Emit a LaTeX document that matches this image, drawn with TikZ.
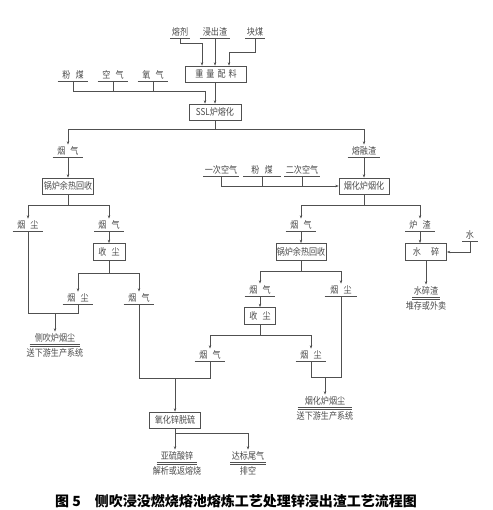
\documentclass[tikz,border=0pt]{standalone}
\usepackage{fontspec}
\usepackage{tikz}
\usetikzlibrary{arrows.meta, positioning}
\newfontfamily\cjk[FakeStretch=0.85]{Noto Sans CJK SC}
\newfontfamily\capfont{Noto Sans CJK SC}
\definecolor{linec}{HTML}{505050}
\definecolor{txtc}{HTML}{4A4A4A}
\newcommand{\kgap}[1][5pt]{\hspace{#1}}

\begin{document}
\begin{tikzpicture}[
		x=1pt, y=-1pt,
		line width=0.55pt,
		every node/.style={text=txtc, font=\cjk\fontsize{9.5}{11}\selectfont},
		unit/.style={draw=linec, minimum width=#1, minimum height=16pt, inner sep=1pt},
		tag/.style={inner sep=1.5pt, minimum width=#1, anchor=south,
			append after command={(\tikzlastnode.south west) edge[draw=linec] (\tikzlastnode.south east)}},
		sink/.style={tag=#1,
			append after command={([yshift=-1.8pt]\tikzlastnode.south west) edge[draw=linec] ([yshift=-1.8pt]\tikzlastnode.south east)}},
		note/.style={inner sep=1pt},
		link/.style={draw=linec},
		flow/.style={draw=linec, -{Stealth[length=3.5pt, width=2.4pt]}}
		]
		
		\useasboundingbox (0,0) rectangle (492,510);
		
		% === RAW MATERIALS ===
		\node[tag=18pt] (flux) at (180,38) {熔剂};
		\node[tag=30pt] (leach) at (215,38) {浸出渣};
		\node[tag=19pt] (lump) at (255,38) {块煤};
		\node[unit=61pt] (batch) at (216,74) {重\kgap[3pt]量\kgap[3pt]配\kgap[3pt]料};
		
		\node[tag=30pt] (coalA) at (73,81) {粉\kgap 煤};
		\node[tag=30pt] (airA) at (113,81) {空\kgap 气};
		\node[tag=30pt] (oxy) at (153,81) {氧\kgap 气};
		\node[unit=52pt] (ssl) at (215,112) {SSL炉熔化};
		
		% === SSL FLUE GAS (LEFT) ===
		\node[tag=30pt] (gasA) at (68,157) {烟\kgap 气};
		\node[unit=51pt] (boilerA) at (68,186) {锅炉余热回收};
		\node[tag=30pt] (dustA) at (28,231) {烟\kgap 尘};
		\node[tag=29pt] (gasB) at (109,231) {烟\kgap 气};
		\node[unit=32pt, minimum height=17pt] (collA) at (109,252) {收\kgap 尘};
		\node[tag=30pt] (dustB) at (78,304) {烟\kgap 尘};
		\node[tag=30pt] (gasC) at (139,304) {烟\kgap 气};
		\node[sink=50pt] (sideDust) at (55,344) {侧吹炉烟尘};
		\node[note, below=3pt of sideDust] (sideDustTo) {送下游生产系统};
		
		\node[unit=51pt] (desulf) at (175,420) {氧化锌脱硫};
		\node[sink=40pt] (znso3) at (177,462) {亚硫酸锌};
		\node[note, below=3pt of znso3] (znso3To) {解析或返熔烧};
		\node[sink=35pt] (tail) at (248,462) {达标尾气};
		\node[note, below=3pt of tail] (tailTo) {排空};
		
		% === FUMING FURNACE (RIGHT) ===
		\node[tag=32pt] (slag) at (364,157) {熔融渣};
		\node[tag=35pt] (airB) at (221,176) {一次空气};
		\node[tag=37pt] (coalB) at (262,176) {粉\kgap 煤};
		\node[tag=32pt] (airC) at (302,176) {二次空气};
		\node[unit=50pt] (fume) at (364,186) {烟化炉烟化};
		\node[tag=30pt] (gasE) at (301,231) {烟\kgap 气};
		\node[tag=29pt] (fslag) at (420,231) {炉\kgap 渣};
		\node[unit=50pt, minimum height=17pt] (boilerB) at (301,252) {锅炉余热回收};
		\node[tag=30pt] (gasF) at (260,296) {烟\kgap 气};
		\node[tag=32pt] (dustC) at (341,296) {烟\kgap 尘};
		\node[unit=31pt, minimum height=17pt] (collB) at (260,316) {收\kgap 尘};
		\node[tag=30pt] (gasD) at (210,361) {烟\kgap 气};
		\node[tag=30pt] (dustD) at (311,361) {烟\kgap 尘};
		\node[sink=54pt] (fumeDust) at (325,407) {烟化炉烟尘};
		\node[note, below=3pt of fumeDust] (fumeDustTo) {送下游生产系统};
		
		\node[tag=15pt] (water) at (470,241) {水};
		\node[unit=41pt, minimum height=17pt] (quench) at (426,252) {水\kgap[10pt]碎};
		\node[sink=27pt] (wslag) at (426,297) {水碎渣};
		\node[note, below=3pt of wslag] (wslagTo) {堆存或外卖};
		
		% === FEED LINES ===
		\draw[flow] (flux.south) -- ++(0,5) -| ([xshift=-14pt]batch.north);
		\draw[flow] (leach.south) -- (leach.south |- batch.north);
		\draw[flow] (lump.south) -- ++(0,14) -| ([xshift=13pt]batch.north);
		
		\coordinate (mixA) at (205,91);
		\draw[link] (coalA.south) |- (mixA);
		\foreach \n in {airA, oxy} \draw[link] (\n.south) -- (\n.south |- mixA);
		\draw[flow] (mixA) -- (mixA |- ssl.north);
		\draw[flow] (batch.south -| ssl.north) -- (ssl.north);
		
		% SSL splits into flue gas and molten slag
		\draw[link] (ssl.south) -- ++(0,9) coordinate (splitA);
		\foreach \n in {gasA, slag} \draw[flow] (splitA) -| (\n.north);
		
		% === LEFT BRANCH ===
		\draw[flow] (gasA.south) -- (boilerA.north);
		\draw[link] (boilerA.south) -- ++(0,11) coordinate (splitB);
		\foreach \n in {dustA, gasB} \draw[flow] (splitB) -| (\n.north);
		\draw[flow] (gasB.south) -- (collA.north);
		\draw[link] (collA.south) -- ++(0,12) coordinate (splitC);
		\foreach \n in {dustB, gasC} \draw[flow] (splitC) -| (\n.north);
		
		\coordinate (mixB) at (78,313);
		\draw[link] (dustA.south) |- (mixB) -- (dustB.south);
		\draw[flow] (mixB -| sideDust.north) -- (sideDust.north);
		
		\coordinate (mixC) at (210,378);
		\draw[link] (gasC.south) |- (mixC) -- (gasD.south);
		\draw[flow] (mixC -| desulf.north) -- (desulf.north);
		\draw[link] (desulf.south) -- ++(0,5) coordinate (splitD);
		\draw[flow] (splitD) -- (splitD |- znso3.north);
		\draw[flow] (splitD) -| (tail.north);
		
		% === RIGHT BRANCH ===
		\draw[flow] (slag.south) -- (fume.north);
		\draw[flow] (airB.south) |- (fume.west);
		\foreach \n in {coalB, airC} \draw[link] (\n.south) -- (\n.south |- fume.west);
		\draw[link] (fume.south) -- ++(0,11) coordinate (splitE);
		\foreach \n in {gasE, fslag} \draw[flow] (splitE) -| (\n.north);
		\draw[flow] (gasE.south) -- (boilerB.north);
		\draw[link] (boilerB.south) -- ++(0,10) coordinate (splitF);
		\foreach \n in {gasF, dustC} \draw[flow] (splitF) -| (\n.north);
		\draw[flow] (gasF.south) -- (collB.north);
		\draw[link] (collB.south) -- ++(0,10) coordinate (splitG);
		\foreach \n in {gasD, dustD} \draw[flow] (splitG) -| (\n.north);
		
		\coordinate (mixE) at (311,377);
		\draw[link] (dustC.south) |- (mixE) -- (dustD.south);
		\draw[flow] (mixE -| fumeDust.north) -- (fumeDust.north);
		
		\draw[flow] (fslag.south) -- (fslag.south |- quench.north);
		\draw[flow] (water.south) |- (quench.east);
		\draw[flow] (quench.south) -- (quench.south |- wslag.north);
		
		% === CAPTION ===
		\node[font=\capfont\bfseries\fontsize{14}{16}\selectfont, text=black] (caption) at (236,501)
		{图 5\hspace{14pt}侧吹浸没燃烧熔池熔炼工艺处理锌浸出渣工艺流程图};
		
\end{tikzpicture}
\end{document}
